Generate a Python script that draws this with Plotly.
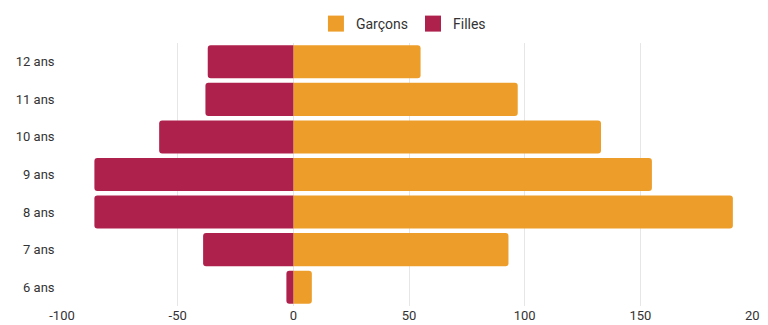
import plotly.graph_objects as go

ages = ["6 ans", "7 ans", "8 ans", "9 ans", "10 ans", "11 ans", "12 ans"]
garcons = [8, 93, 190, 155, 133, 97, 55]
filles = [-3, -39, -86, -86, -58, -38, -37]
x_ticks = [-100, -50, 0, 50, 100, 150, 200]
x_tick_labels = ["-100", "-50", "0", "50", "100", "150", "200"]
c_garcons = "#ED9E2A"
c_filles = "#AE214C"

fig = go.Figure()
fig.add_trace(go.Bar(y=ages, x=garcons, orientation="h", name="Garçons", showlegend=False,
                     marker=dict(color=c_garcons, line=dict(width=0))))
fig.add_trace(go.Bar(y=ages, x=filles, orientation="h", name="Filles", showlegend=False,
                     marker=dict(color=c_filles, line=dict(width=0))))
# legend entries
for name, col in [("Garçons", c_garcons), ("Filles", c_filles)]:
    fig.add_trace(go.Scatter(x=[None], y=[None], mode="markers", name=name,
                             marker=dict(symbol="square", size=16, color=col)))

fig.update_layout(
    width=768, height=317,
    barmode="relative", bargap=0.12, barcornerradius=3,
    paper_bgcolor="white", plot_bgcolor="white",
    margin=dict(l=54, r=20, t=35, b=19, autoexpand=False),
    font=dict(family="Roboto", size=13, color="#333333"),
    legend=dict(orientation="h", x=0.492, xanchor="center", y=1.0, yanchor="top",
                yref="container", font=dict(size=14, color="#333333"),
                traceorder="normal", itemsizing="trace", itemwidth=30),
    xaxis=dict(range=[-100, 200], tickvals=x_ticks, ticktext=x_tick_labels,
               showgrid=True, gridcolor="#E6E6E6", automargin=False, ticklabeloverflow="allow",
               gridwidth=1, zeroline=False, showline=False, ticks="", tickfont=dict(size=13)),
    yaxis=dict(showgrid=False, zeroline=False, showline=False, ticks="", automargin=False,
               ticksuffix="  ", tickfont=dict(size=13)),
)
fig.write_html("out.html")
